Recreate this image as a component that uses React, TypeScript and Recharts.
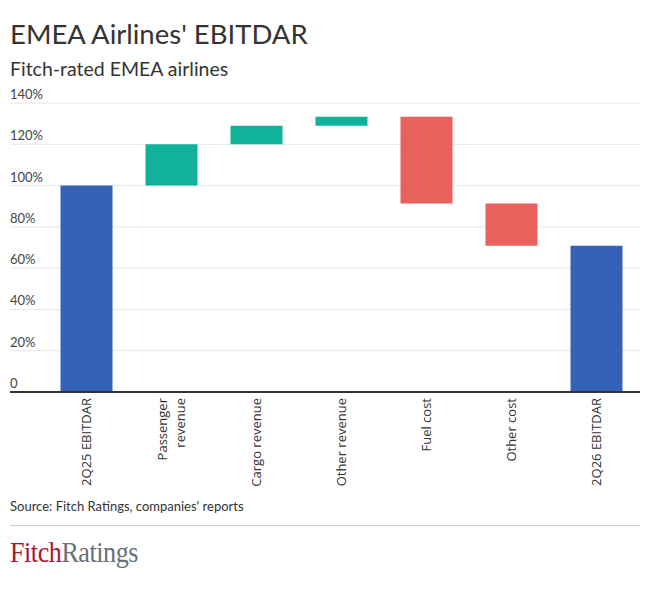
import { Bar, BarChart, CartesianGrid, Cell, XAxis, YAxis } from 'recharts'

const categories = ['2Q25 EBITDAR', 'Passenger revenue', 'Cargo revenue', 'Other revenue', 'Fuel cost', 'Other cost', '2Q26 EBITDAR']
const changes = [100, 20, 9, 4.3, -42, -20.5, 70.8]
const kinds = ['total', 'increase', 'increase', 'increase', 'decrease', 'decrease', 'total']
const yTicks = [0, 20, 40, 60, 80, 100, 120, 140]

const kindColors: Record<string, string> = {
  total: '#3562b6',
  increase: '#11b29b',
  decrease: '#e8615a',
}

const FONT = 'Lato, "Open Sans", sans-serif'

function buildRows() {
  let running = 0
  return categories.map((name, i) => {
    const change = changes[i]
    const kind = kinds[i]
    if (kind === 'total') {
      running = change
      return { name, kind, base: 0, value: change }
    }
    if (change >= 0) {
      const base = running
      running += change
      return { name, kind, base, value: change }
    }
    running += change
    return { name, kind, base: running, value: -change }
  })
}

function YTick({ y, payload }: { y?: number; payload?: { value: number } }) {
  const v = payload?.value ?? 0
  return (
    <text x={10} y={(y ?? 0) - 4} fill="#444" fontSize={13} fontFamily={FONT} textAnchor="start">
      {v === 0 ? '0' : `${v}%`}
    </text>
  )
}

function XTick({ x, y, payload }: { x?: number; y?: number; payload?: { value: string } }) {
  const label = String(payload?.value ?? '')
  const words = label.split(' ')
  const lines = label.length > 14 ? [words.slice(0, -1).join(' '), words[words.length - 1]] : [label]
  const offsets = lines.length === 1 ? [0] : [-9, 9]
  return (
    <g transform={`translate(${x},${y}) rotate(-90)`}>
      {lines.map((line, i) => (
        <text
          key={line}
          x={0}
          y={offsets[i]}
          dy="0.35em"
          textAnchor="end"
          fill="#333"
          fontSize={13}
          fontFamily='"Open Sans", sans-serif'
        >
          {line}
        </text>
      ))}
    </g>
  )
}

export default function App() {
  const rows = buildRows()
  return (
    <div style={{ position: 'relative', width: 650, height: 602, background: '#fff', fontFamily: FONT }}>
      <style>{'body{margin:0}'}</style>
      <div style={{ position: 'absolute', left: 10, top: 17, fontSize: 27.5, lineHeight: '33px', color: '#333', whiteSpace: 'nowrap' }}>
        EMEA Airlines' EBITDAR
      </div>
      <div style={{ position: 'absolute', left: 10, top: 57, fontSize: 19.5, lineHeight: '23px', color: '#333', whiteSpace: 'nowrap' }}>
        Fitch-rated EMEA airlines
      </div>
      <div style={{ position: 'absolute', left: 0, top: 80 }}>
        <BarChart width={650} height={412} data={rows} margin={{ top: 23, right: 10, left: 9, bottom: 0 }} barSize={52}>
          <CartesianGrid vertical={false} stroke="#e6e6e6" />
          <YAxis
            width={1}
            domain={[0, 140]}
            ticks={yTicks}
            axisLine={false}
            tickLine={false}
            tick={<YTick />}
            interval={0}
          />
          <XAxis
            dataKey="name"
            interval={0}
            height={100}
            padding={{ left: 33.5, right: 1.5 }}
            tickLine={false}
            tickSize={0}
            tickMargin={6}
            axisLine={{ stroke: '#333', strokeWidth: 2 }}
            tick={<XTick />}
          />
          <Bar dataKey="base" stackId="a" fill="transparent" isAnimationActive={false} />
          <Bar dataKey="value" stackId="a" isAnimationActive={false}>
            {rows.map((r) => (
              <Cell key={r.name} fill={kindColors[r.kind]} />
            ))}
          </Bar>
        </BarChart>
      </div>
      <div style={{ position: 'absolute', left: 10, top: 498, fontSize: 13, lineHeight: '16px', color: '#333', whiteSpace: 'nowrap' }}>
        Source: Fitch Ratings, companies' reports
      </div>
      <div style={{ position: 'absolute', left: 10, top: 525, width: 630, height: 1, background: '#cfcfcf' }} />
      <div
        style={{
          position: 'absolute',
          left: 10,
          top: 535,
          fontSize: 29,
          lineHeight: '34px',
          fontFamily: '"Liberation Serif", "DejaVu Serif", serif',
          whiteSpace: 'nowrap',
          transform: 'scaleX(0.9)',
          transformOrigin: 'left center',
          letterSpacing: -0.5,
        }}
      >
        <span style={{ color: '#a5183a' }}>Fitch</span>
        <span style={{ color: '#66717b' }}>Ratings</span>
      </div>
    </div>
  )
}
